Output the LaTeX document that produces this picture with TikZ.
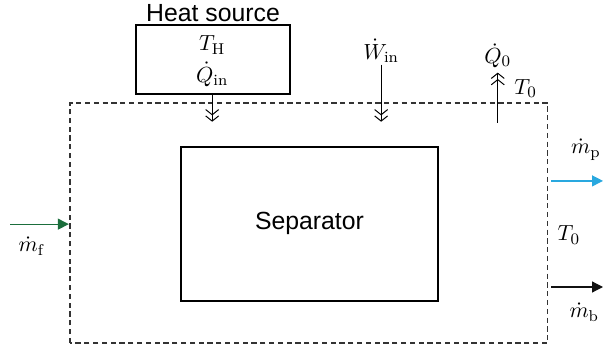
\documentclass[tikz,border=0pt]{standalone}
\usepackage{fontspec}
\setsansfont{Liberation Sans}
\usepackage{tikz}
\usetikzlibrary{arrows.meta, positioning}
\usepackage{amsmath}
\definecolor{flowFeed}{HTML}{1B6E3C}
\definecolor{flowProd}{HTML}{29A8DF}
\definecolor{flowBrine}{HTML}{111111}
\definecolor{ctrlGray}{HTML}{333333}
\tikzset{
  arrowQ/.style={-{Straight Barb[length=2.6pt,width=6.5pt]Straight Barb[length=2.6pt,width=6.5pt]}, line width=0.5pt},
  arrowF/.style={-{Triangle[length=5.5pt,width=5.5pt]}, line width=0.6pt},
  boxS/.style={rectangle, draw, line width=1pt, font=\sffamily\fontsize{12.4}{14}\selectfont,
               inner sep=0pt, align=center},
  lbl/.style={font=\fontsize{11.2}{13}\selectfont, inner sep=1pt},
}
\begin{document}
\begin{tikzpicture}
    \useasboundingbox (0,0) rectangle (10.6,6.17);
    % control volume
    \draw[ctrlGray, line width=0.55pt, dash pattern=on 2.6pt off 1.8pt] (1.23,0.14) rectangle (9.63,4.36);

    % separator
    \node[boxS, minimum width=4.52cm, minimum height=2.71cm] (sep) at (5.44,2.235) {Separator};

    % heat source
    \node[boxS, minimum width=2.71cm, minimum height=1.21cm] (heat) at (3.745,5.125) {};
    \node[boxS, draw=none, above=0.02cm of heat] (heatlbl) {Heat source};
    \node[lbl] (TH) at (3.73,5.38) {$T_{\mathrm{H}}$};
    \node[lbl] (Qin) at (3.73,4.86) {$\dot{Q}_{\mathrm{in}}$};
    \coordinate (qin) at (3.73,4.03);
    \draw[arrowQ] (heat.south -| qin) -- (qin);

    % work input
    \node[lbl] (Win) at (6.70,5.28) {$\dot{W}_{\mathrm{in}}$};
    \coordinate (win) at (6.70,4.03);
    \draw[arrowQ] (Win.south) -- (win);

    % heat rejected
    \coordinate (q0) at (8.75,4.01);
    \node[lbl] (Q0) at (8.75,5.19) {$\dot{Q}_0$};
    \draw[arrowQ] (q0) -- ([yshift=-0.04cm]Q0.south);
    \node[lbl] (Ttop) at (9.24,4.62) {$T_0$};

    % streams
    \coordinate (fin) at (0.18,2.23);
    \coordinate (fout) at (1.21,2.23);
    \draw[arrowF, flowFeed] (fin) -- (fout);
    \node[lbl] (mf) at (0.55,1.84) {$\dot{m}_{\mathrm{f}}$};

    \coordinate (pin) at (9.69,2.99);
    \coordinate (pout) at (10.6,2.99);
    \draw[arrowF, flowProd] (pin) -- (pout);
    \node[lbl] (mp) at (10.3,3.54) {$\dot{m}_{\mathrm{p}}$};

    \node[lbl] (Tside) at (10.0,2.04) {$T_0$};

    \coordinate (bin) at (9.69,1.125);
    \coordinate (bout) at (10.6,1.125);
    \draw[arrowF, flowBrine] (bin) -- (bout);
    \node[lbl] (mb) at (10.27,0.68) {$\dot{m}_{\mathrm{b}}$};
\end{tikzpicture}
\end{document}
